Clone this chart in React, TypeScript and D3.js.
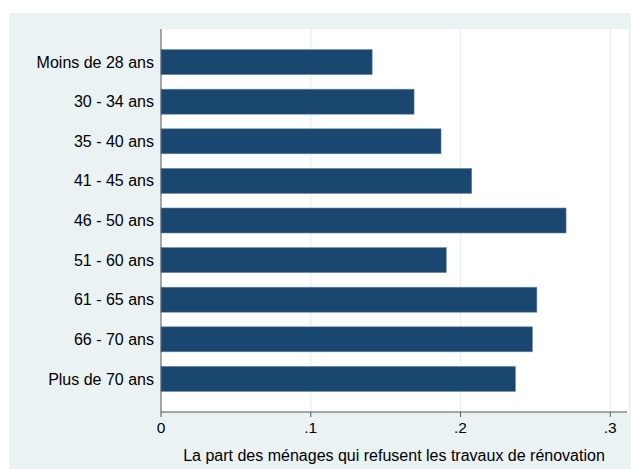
import React from "react";
import * as d3 from "d3";

const categories = [
  "Moins de 28 ans",
  "30 - 34 ans",
  "35 - 40 ans",
  "41 - 45 ans",
  "46 - 50 ans",
  "51 - 60 ans",
  "61 - 65 ans",
  "66 - 70 ans",
  "Plus de 70 ans",
];
const values = [0.141, 0.169, 0.187, 0.2075, 0.2705, 0.1905, 0.251, 0.248, 0.2367];
const tickValues = [0, 0.1, 0.2, 0.3];
const tickLabels = ["0", ".1", ".2", ".3"];
const xTitle = "La part des ménages qui refusent les travaux de rénovation";

export default function App() {
  const W = 631, H = 469;
  const left = 161, right = 627, top = 29, bottom = 412;
  const x = d3.scaleLinear().domain([0, 0.3]).range([left, left + 0.3 * 1497.5]);
  const y = d3.scaleBand<string>().domain(categories).range([top, bottom]).paddingInner(0.369).paddingOuter(0.52);
  const font = "'Liberation Sans', Arial, Helvetica, sans-serif";
  return (
    <svg width={W} height={H} style={{ position: "absolute", left: 0, top: 0 }}>
      <rect x={9} y={13} width={W - 9} height={H - 13} fill="#eaf2f3" />
      <rect x={left} y={top} width={right - left + 1.5} height={bottom - top} fill="#ffffff" />
      {tickValues.slice(1).map((t) => (
        <line key={t} x1={x(t)} x2={x(t)} y1={top} y2={bottom} stroke="#eaf2f3" strokeWidth={1.5} />
      ))}
      {categories.map((c, i) => (
        <rect
          key={c}
          x={x(0)}
          y={y(c)!}
          width={x(values[i]) - x(0)}
          height={y.bandwidth()}
          fill="#1a476f"
          stroke="#6a88a3"
          strokeWidth={0.6}
        />
      ))}
      <line x1={left} x2={left} y1={top} y2={bottom} stroke="#555" strokeWidth={1} />
      <line x1={left} x2={right} y1={bottom} y2={bottom} stroke="#555" strokeWidth={1} />
      {tickValues.map((t, i) => (
        <g key={t}>
          <line x1={x(t)} x2={x(t)} y1={bottom} y2={bottom + 5} stroke="#555" strokeWidth={1} />
          <text x={x(t)} y={433} textAnchor="middle" fontFamily={font} fontSize={15.5} fill="#000">
            {tickLabels[i]}
          </text>
        </g>
      ))}
      {categories.map((c) => (
        <text
          key={c}
          x={154}
          y={y(c)! + y.bandwidth() / 2}
          dy="0.35em"
          textAnchor="end"
          fontFamily={font}
          fontSize={16}
          fill="#000"
        >
          {c}
        </text>
      ))}
      <text x={(left + right) / 2} y={461} textAnchor="middle" fontFamily={font} fontSize={16} fill="#000">
        {xTitle}
      </text>
    </svg>
  );
}
